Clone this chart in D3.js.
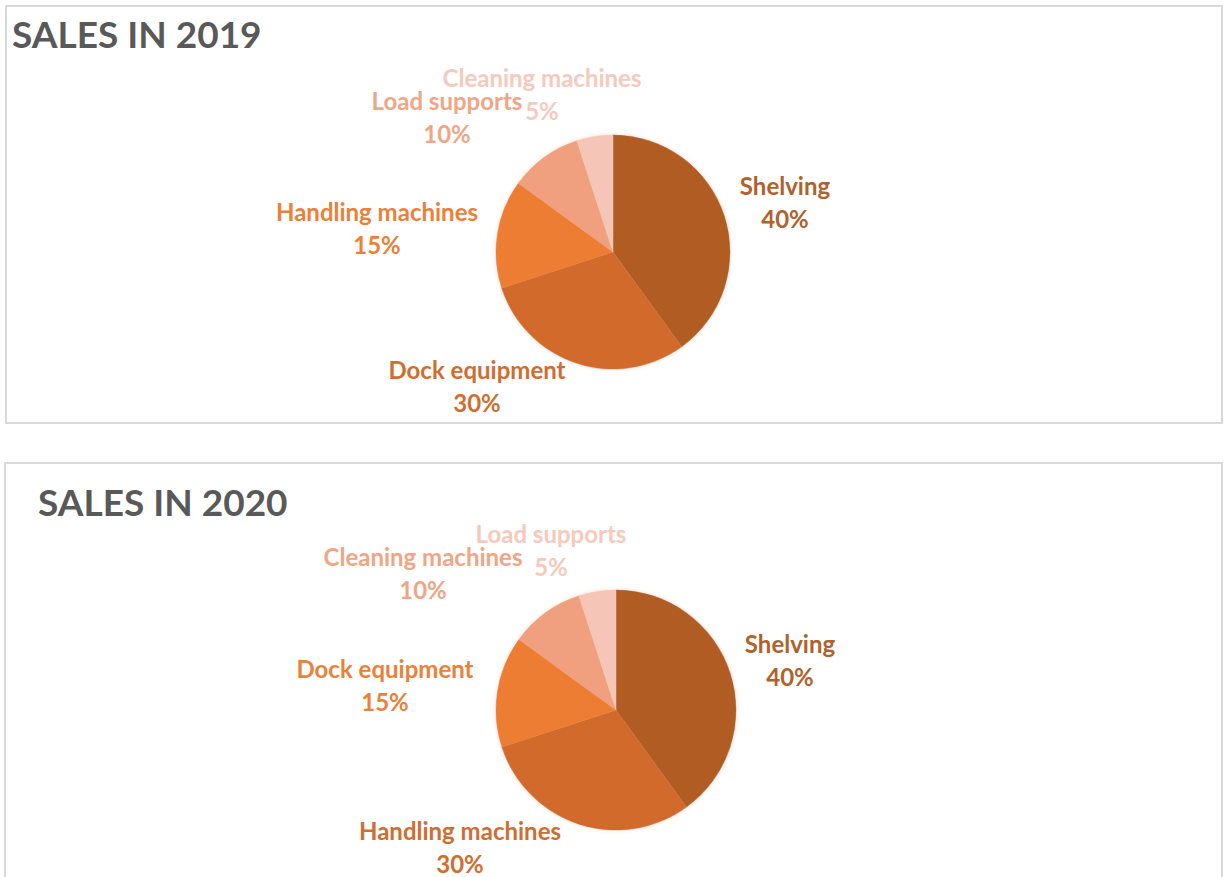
<!DOCTYPE html>
<html>
<head>
<meta charset="utf-8">
<script src="https://cdn.jsdelivr.net/npm/d3@7"></script>
<style>
  html, body { margin: 0; padding: 0; background: #ffffff; }
  svg { display: block; }
  text { font-family: Lato, "Open Sans", sans-serif; font-weight: 700; }
</style>
</head>
<body>
<svg id="chart" width="1224" height="877"></svg>
<script>
// Sales share by product line, two years
const titles = ["SALES IN 2019", "SALES IN 2020"];
const categories2019 = ["Shelving", "Dock equipment", "Handling machines", "Load supports", "Cleaning machines"];
const values2019 = [40, 30, 15, 10, 5];
const categories2020 = ["Shelving", "Handling machines", "Dock equipment", "Cleaning machines", "Load supports"];
const values2020 = [40, 30, 15, 10, 5];

// slice colours, in slice order (largest to smallest)
const sliceColors = ["#b05c21", "#d16a2a", "#ec7d32", "#f0a07e", "#f5c6b8"];
const labelColors = ["#b0612c", "#d06d30", "#ec8038", "#f0a585", "#f5c9bc"];

// panel layout
const panels = [
  { box: [6, 6, 1216, 417], titleX: 12, titleY: 48, cx: 613, cy: 252, r: 117,
    labelOffsets: [[172, -65], [-136, 119], [-236, -39], [-166, -150], [-71, -173]] },
  { box: [5, 463, 1217, 430], titleX: 38, titleY: 516, cx: 616, cy: 710, r: 120,
    labelOffsets: [[174, -65], [-156, 122], [-231, -40], [-193, -152], [-65, -175]] }
];

const datasets = [
  categories2019.map((c, i) => ({ name: c, value: values2019[i] })),
  categories2020.map((c, i) => ({ name: c, value: values2020[i] }))
];

const svg = d3.select("#chart");

const defs = svg.append("defs");
const glow = defs.append("filter").attr("id", "glow")
  .attr("x", "-10%").attr("y", "-10%").attr("width", "120%").attr("height", "120%");
glow.append("feGaussianBlur").attr("in", "SourceAlpha").attr("stdDeviation", 2).attr("result", "b");
glow.append("feFlood").attr("flood-color", "#f3d2bd").attr("flood-opacity", 0.8);
glow.append("feComposite").attr("in2", "b").attr("operator", "in").attr("result", "s");
const m = glow.append("feMerge");
m.append("feMergeNode").attr("in", "s");
m.append("feMergeNode").attr("in", "SourceGraphic");

const pie = d3.pie().sort(null).value(d => d.value);

panels.forEach((p, k) => {
  const data = datasets[k];
  const [bx, by, bw, bh] = p.box;

  const g = svg.append("g");

  g.append("rect")
    .attr("x", bx).attr("y", by).attr("width", bw).attr("height", bh)
    .attr("fill", "#ffffff").attr("stroke", "#d9d9d9").attr("stroke-width", 2);

  g.append("text")
    .attr("x", p.titleX).attr("y", p.titleY)
    .attr("fill", "#595959").attr("font-size", 37)
    .text(titles[k]);

  const color = d3.scaleOrdinal().domain(data.map(d => d.name)).range(sliceColors);
  const labelColor = d3.scaleOrdinal().domain(data.map(d => d.name)).range(labelColors);
  const arc = d3.arc().innerRadius(0).outerRadius(p.r);

  const pg = g.append("g").attr("transform", `translate(${p.cx},${p.cy})`);

  pg.append("g").attr("filter", "url(#glow)")
    .selectAll("path")
    .data(pie(data))
    .join("path")
    .attr("d", arc)
    .attr("fill", d => color(d.data.name))
    .attr("stroke", d => color(d.data.name))
    .attr("stroke-width", 0.5);

  const lab = pg.selectAll("g.lab")
    .data(pie(data))
    .join("g")
    .attr("class", "lab")
    .attr("transform", (d, i) => `translate(${p.labelOffsets[i][0]},${p.labelOffsets[i][1]})`);

  lab.append("text")
    .attr("text-anchor", "middle")
    .attr("y", 8)
    .attr("font-size", 24)
    .attr("fill", d => labelColor(d.data.name))
    .text(d => d.data.name);

  lab.append("text")
    .attr("text-anchor", "middle")
    .attr("y", 41)
    .attr("font-size", 24)
    .attr("fill", d => labelColor(d.data.name))
    .text(d => d.data.value + "%");
});
</script>
</body>
</html>
